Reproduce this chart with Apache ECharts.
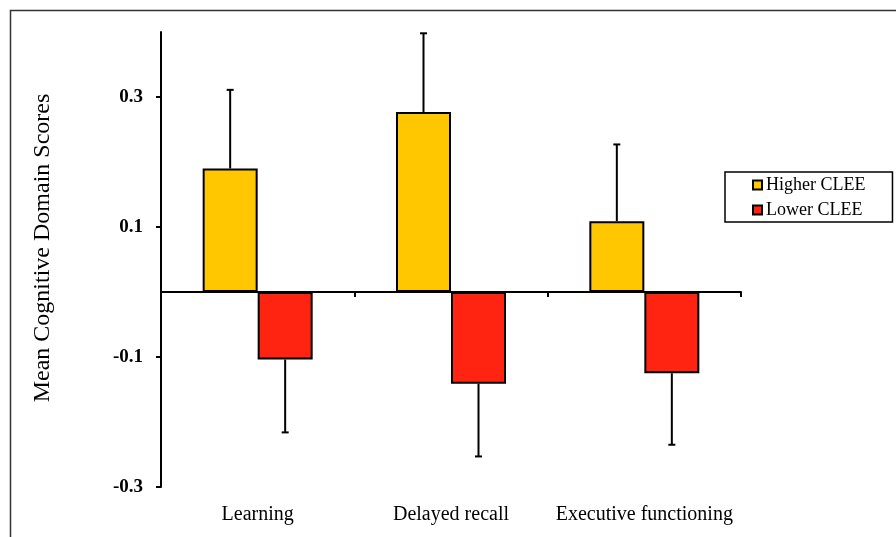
<!DOCTYPE html>
<html>
<head>
<meta charset="utf-8">
<script src="https://cdn.jsdelivr.net/npm/echarts@6/dist/echarts.min.js"></script>
<style>
html,body{margin:0;padding:0;background:#fff;}
#chart{width:896px;height:537px;}
</style>
</head>
<body>
<div id="chart"></div>
<script>
const categories = ['Learning', 'Delayed recall', 'Executive functioning'];
const higherCLEE = [0.190, 0.277, 0.109];
const higherErr = [0.121, 0.121, 0.118];
const lowerCLEE = [-0.104, -0.141, -0.125];
const lowerErr = [0.112, 0.112, 0.110];
const yTicks = [-0.3, -0.1, 0.1, 0.3];
const yMin = -0.3, yMax = 0.4;

const SERIF = "'Liberation Serif', 'Times New Roman', serif";
const BAR_W = 55;

function errData(vals, errs, sign) {
  return vals.map((v, i) => [i, v, v + sign * errs[i]]);
}

function errRender(offset) {
  return function (params, api) {
    const i = api.value(0);
    const p0 = api.coord([i, api.value(1)]);
    const p1 = api.coord([i, api.value(2)]);
    const x = p0[0] + offset;
    const cap = 3.5;
    const st = { stroke: '#000', lineWidth: 2 };
    return {
      type: 'group',
      children: [
        { type: 'line', shape: { x1: x, y1: p0[1], x2: x, y2: p1[1] }, style: st },
        { type: 'line', shape: { x1: x - cap, y1: p1[1], x2: x + cap, y2: p1[1] }, style: st }
      ]
    };
  };
}

const chart = echarts.init(document.getElementById('chart'));
chart.setOption({
  animation: false,
  backgroundColor: '#fff',
  grid: { left: 161, right: 155, top: 32, bottom: 50, containLabel: false },
  legend: {
    orient: 'vertical',
    left: 725,
    top: 172,
    padding: [4, 27, 3, 27],
    itemWidth: 9,
    itemHeight: 9,
    itemGap: 7,
    borderColor: '#000',
    borderWidth: 1.5,
    icon: 'rect',
    textStyle: { fontFamily: SERIF, fontSize: 18, color: '#000', padding: [0, 0, 0, -1] },
    data: ['Higher CLEE', 'Lower CLEE']
  },
  xAxis: [
    {
      type: 'category',
      data: categories,
      position: 'bottom',
      axisLine: { onZero: true, lineStyle: { color: '#000', width: 2 } },
      axisTick: { show: true, length: 5, lineStyle: { color: '#000', width: 2 } },
      axisLabel: { show: false },
      splitLine: { show: false }
    },
    {
      type: 'category',
      data: categories,
      position: 'bottom',
      axisLine: { show: false, onZero: false },
      axisTick: { show: false },
      axisLabel: { show: true, interval: 0, hideOverlap: false, margin: 18, fontFamily: SERIF, fontSize: 20, color: '#000' },
      splitLine: { show: false }
    }
  ],
  yAxis: {
    type: 'value',
    min: yMin,
    max: yMax,
    axisLine: { show: true, lineStyle: { color: '#000', width: 2 } },
    axisTick: { show: true, length: 5, lineStyle: { color: '#000', width: 2 }, customValues: yTicks },
    axisLabel: {
      customValues: yTicks,
      margin: 18,
      fontFamily: SERIF,
      fontSize: 19,
      fontWeight: 'bold',
      color: '#000',
      formatter: v => Number(v).toFixed(1)
    },
    splitLine: { show: false }
  },
  graphic: [
    {
      type: 'polyline',
      shape: { points: [[10.5, 537], [10.5, 10.5], [896, 10.5]] },
      style: { stroke: '#333', lineWidth: 1.5, fill: null },
      silent: true
    },
    {
      type: 'text',
      x: 43,
      y: 248,
      rotation: Math.PI / 2,
      style: {
        text: 'Mean Cognitive Domain Scores',
        fontFamily: SERIF,
        fontSize: 24,
        fill: '#000',
        align: 'center',
        verticalAlign: 'middle'
      }
    }
  ],
  series: [
    {
      name: 'Higher CLEE',
      type: 'bar',
      xAxisIndex: 0,
      data: higherCLEE,
      barWidth: BAR_W,
      barGap: '0%',
      itemStyle: { color: '#FFC700', borderColor: '#000', borderWidth: 2 },
      z: 2
    },
    {
      name: 'Lower CLEE',
      type: 'bar',
      xAxisIndex: 0,
      data: lowerCLEE,
      barWidth: BAR_W,
      barGap: '0%',
      itemStyle: { color: '#FF2312', borderColor: '#000', borderWidth: 2 },
      z: 2
    },
    {
      type: 'custom',
      xAxisIndex: 0,
      data: errData(higherCLEE, higherErr, 1),
      renderItem: errRender(-BAR_W / 2),
      z: 3,
      silent: true
    },
    {
      type: 'custom',
      xAxisIndex: 0,
      data: errData(lowerCLEE, lowerErr, -1),
      renderItem: errRender(BAR_W / 2),
      z: 3,
      silent: true
    }
  ]
});
</script>
</body>
</html>
